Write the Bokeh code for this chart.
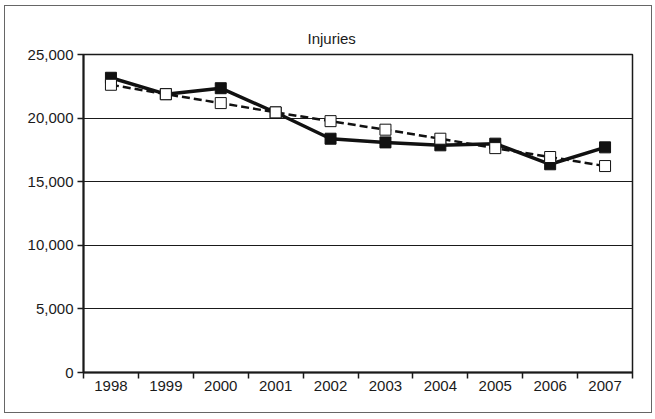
from bokeh.plotting import figure
from bokeh.models import Range1d, FixedTicker, NumeralTickFormatter, BasicTickFormatter, Title
from bokeh.embed import file_html
from bokeh.resources import INLINE

years = [1998, 1999, 2000, 2001, 2002, 2003, 2004, 2005, 2006, 2007]
injuries_actual = [23170, 21880, 22350, 20440, 18380, 18090, 17860, 17990, 16370, 17700]
injuries_trend = [22620, 21880, 21180, 20450, 19760, 19090, 18380, 17640, 16940, 16230]
y_ticks = [0, 5000, 10000, 15000, 20000, 25000]
title_text = "Injuries"

FONT = "Liberation Sans"

p = figure(width=648, height=408, output_backend="svg", toolbar_location=None,
           x_range=Range1d(years[0] - 0.5, years[-1] + 0.5),
           y_range=Range1d(y_ticks[0], y_ticks[-1]),
           min_border_left=78, min_border_right=21, min_border_top=48, min_border_bottom=42,
           background_fill_color="white", border_fill_color="white")
p.title = None
t = Title(text=title_text, align="left", offset=224, text_font=FONT, text_font_size="15px",
          text_font_style="normal", text_color="#1a1a1a", standoff=15)
p.add_layout(t, "above")

p.outline_line_color = "#1a1a1a"
p.outline_line_width = 1.5

# x axis: labels at years, ticks at boundaries
xa = p.xaxis[0]
xa.ticker = FixedTicker(ticks=years, minor_ticks=[y - 0.5 for y in years] + [years[-1] + 0.5])
xa.formatter = BasicTickFormatter(use_scientific=False)
xa.major_tick_line_color = None
xa.major_tick_out = 0
xa.major_tick_in = 0
xa.minor_tick_line_color = "#1a1a1a"
xa.minor_tick_line_width = 1.5
xa.minor_tick_out = 6
xa.minor_tick_in = 0
xa.axis_line_color = "#1a1a1a"
xa.axis_line_width = 2
xa.major_label_standoff = 2
xa.major_label_text_font = FONT
xa.major_label_text_font_size = "15px"
xa.major_label_text_color = "#1a1a1a"

ya = p.yaxis[0]
ya.ticker = FixedTicker(ticks=y_ticks, minor_ticks=[])
ya.formatter = NumeralTickFormatter(format="0,0")
ya.major_tick_line_color = "#1a1a1a"
ya.major_tick_line_width = 1.5
ya.major_tick_out = 6
ya.major_tick_in = 0
ya.axis_line_color = "#1a1a1a"
ya.axis_line_width = 2
ya.major_label_standoff = 4
ya.major_label_text_font = FONT
ya.major_label_text_font_size = "15px"
ya.major_label_text_color = "#1a1a1a"

p.xgrid.grid_line_color = None
p.ygrid.grid_line_color = "#1a1a1a"
p.ygrid.grid_line_width = 1.2

# actual series: solid line, filled squares
p.line(years, injuries_actual, line_color="#111111", line_width=3.5)
p.scatter(years, injuries_actual, marker="square", size=11, fill_color="#111111", line_color="#111111")

# trend series: dashed line, open squares
p.line(years, injuries_trend, line_color="#111111", line_width=2.5, line_dash="8 4")
p.scatter(years, injuries_trend, marker="square", size=11, fill_color="white", line_color="#111111",
          line_width=1)

p.styles = {"border": "1px solid #666666", "margin-left": "4px", "margin-top": "5px"}

open("out.html", "w").write(file_html(p, INLINE))
